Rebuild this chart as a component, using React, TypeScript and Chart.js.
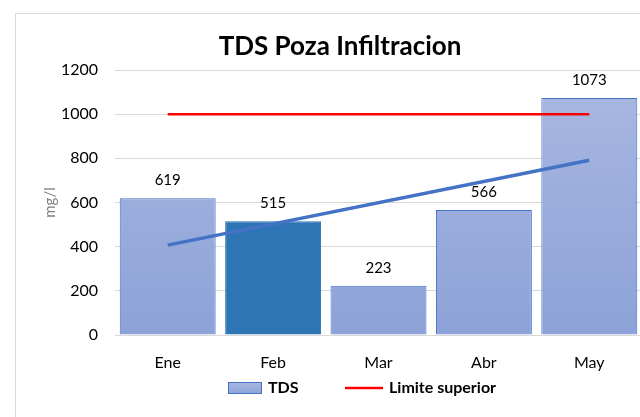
import React, { useEffect, useRef } from "react";
import { Chart, registerables } from "chart.js";

Chart.register(...registerables);

const categories = ["Ene", "Feb", "Mar", "Abr", "May"];
const tdsValues = [619, 515, 223, 566, 1073];
const limitValues = [1000, 1000, 1000, 1000, 1000];
const trendValues = [407, null, null, null, 791];
const yTicks = [0, 200, 400, 600, 800, 1000, 1200];

const FONT = "Lato, 'Open Sans', sans-serif";
const BAR_INDEX = 2;

const overlayPlugin = {
  id: "overlay",
  afterDatasetsDraw(chart: any) {
    const ctx = chart.ctx;
    const meta = chart.getDatasetMeta(BAR_INDEX);
    ctx.save();
    ctx.font = `15px ${FONT}`;
    ctx.fillStyle = "#000";
    ctx.textAlign = "center";
    ctx.textBaseline = "middle";
    meta.data.forEach((bar: any, i: number) => {
      ctx.fillText(String(tdsValues[i]), bar.x, bar.y - 18);
    });
    ctx.restore();
  },
  afterDraw(chart: any) {
    const ctx = chart.ctx;
    ctx.save();
    // title
    ctx.font = `bold 26px ${FONT}`;
    ctx.fillStyle = "#000";
    ctx.textAlign = "center";
    ctx.textBaseline = "middle";
    ctx.fillText("TDS Poza Infiltracion", 324, 33);
    // legend
    const ly = 374;
    const g = ctx.createLinearGradient(0, ly - 6, 0, ly + 6);
    g.addColorStop(0, "#aab8e2");
    g.addColorStop(1, "#8ca2d8");
    ctx.fillStyle = g;
    ctx.fillRect(212, ly - 6, 34, 12);
    ctx.strokeStyle = "#4472c4";
    ctx.lineWidth = 1;
    ctx.strokeRect(212.5, ly - 5.5, 33, 11);
    ctx.font = `bold 16px ${FONT}`;
    ctx.fillStyle = "#000";
    ctx.textAlign = "left";
    ctx.fillText("TDS", 252, ly);
    ctx.strokeStyle = "#ff0000";
    ctx.lineWidth = 2.5;
    ctx.beginPath();
    ctx.moveTo(329, ly);
    ctx.lineTo(367, ly);
    ctx.stroke();
    ctx.fillText("Limite superior", 373, ly);
    ctx.restore();
  },
};

export default function App() {
  const ref = useRef<HTMLCanvasElement | null>(null);

  useEffect(() => {
    if (!ref.current) return;
    const barFill = (c: any) => {
      if (c.dataIndex === 1) return "#2e75b6";
      const area = c.chart.chartArea;
      if (!area) return "#9aace0";
      const el = c.element;
      const top = el && el.y !== undefined ? el.y : area.top;
      const g = c.chart.ctx.createLinearGradient(0, top, 0, area.bottom);
      g.addColorStop(0, "#aab8e2");
      g.addColorStop(1, "#8ca2d8");
      return g;
    };
    const chart = new Chart(ref.current, {
      type: "bar",
      data: {
        labels: categories,
        datasets: [
          {
            type: "line",
            label: "Tendencia",
            data: trendValues as any,
            borderColor: "#4472c4",
            borderWidth: 3.5,
            pointRadius: 0,
            spanGaps: true,
            order: 0,
          } as any,
          {
            type: "line",
            label: "Limite superior",
            data: limitValues,
            borderColor: "#ff0000",
            borderWidth: 2.5,
            pointRadius: 0,
            order: 1,
          } as any,
          {
            type: "bar",
            label: "TDS",
            data: tdsValues,
            backgroundColor: barFill,
            borderColor: (c: any) => (c.dataIndex === 1 ? "#2e75b6" : "#4472c4"),
            borderWidth: 1,
            barPercentage: 0.91,
            categoryPercentage: 1,
            order: 2,
          } as any,
        ],
      },
      options: {
        animation: false,
        responsive: true,
        maintainAspectRatio: false,
        layout: { padding: { left: 0, right: 34, top: 56, bottom: 38 } },
        plugins: {
          legend: { display: false },
          title: { display: false },
          tooltip: { enabled: false },
        },
        scales: {
          x: {
            grid: { display: false, drawTicks: false },
            border: { display: true, color: "#d9d9d9", width: 1 },
            ticks: { padding: 18, color: "#000", font: { family: FONT, size: 16 } },
            afterFit: (s: any) => {
              s.height = 45;
            },
          },
          y: {
            min: 0,
            max: 1200,
            afterBuildTicks: (s: any) => {
              s.ticks = yTicks.map((v) => ({ value: v }));
            },
            grid: { color: "#d9d9d9", drawTicks: false },
            border: { display: false },
            ticks: {
              padding: 17,
              color: "#000",
              font: { family: FONT, size: 16 },
              callback: (v: any) => String(v),
            },
            title: {
              display: true,
              text: "mg/l",
              color: "#808080",
              font: { family: FONT, size: 15 },
              padding: { top: 25, bottom: 0 },
            },
            afterFit: (s: any) => {
              s.width = 99;
            },
          },
        },
      },
      plugins: [overlayPlugin],
    });
    return () => chart.destroy();
  }, []);

  return (
    <div style={{ position: "fixed", left: 0, top: 0, width: 640, height: 417, overflow: "hidden", background: "#fff" }}>
      <div style={{ position: "absolute", left: 15, top: 13, width: 700, height: 500, border: "1px solid #d9d9d9" }}>
        <div style={{ position: "absolute", left: 0, top: 0, width: 660, height: 404 }}>
          <canvas ref={ref} />
        </div>
      </div>
    </div>
  );
}
